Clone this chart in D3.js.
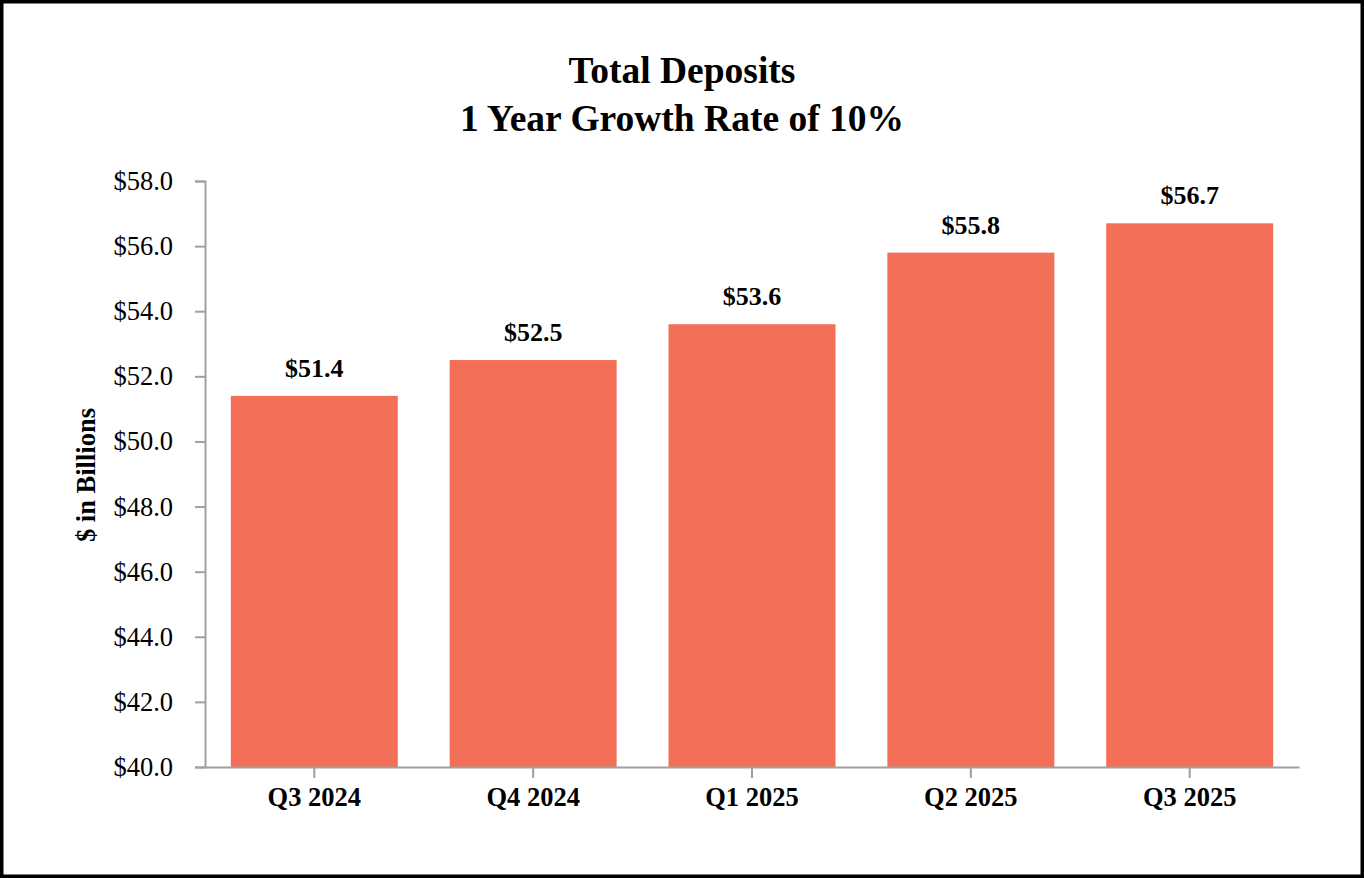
<!DOCTYPE html>
<html>
<head>
<meta charset="utf-8">
<script src="https://cdn.jsdelivr.net/npm/d3@7"></script>
<style>
  html, body { margin: 0; padding: 0; background: #fff; }
  svg { display: block; font-family: "Liberation Serif", "Times New Roman", serif; }
</style>
</head>
<body>
<svg id="chart" width="1364" height="878"></svg>
<script>
const titleLines = ["Total Deposits", "1 Year Growth Rate of 10%"];
const categories = ["Q3 2024", "Q4 2024", "Q1 2025", "Q2 2025", "Q3 2025"];
const deposits = [51.4, 52.5, 53.6, 55.8, 56.7];
const yTicks = [40, 42, 44, 46, 48, 50, 52, 54, 56, 58];
const yLabel = "$ in Billions";

const W = 1364, H = 878;
const svg = d3.select("#chart");

// outer frame
svg.append("rect")
  .attr("x", 1.75).attr("y", 1.75)
  .attr("width", W - 3.5).attr("height", H - 3.5)
  .attr("fill", "#fff").attr("stroke", "#000").attr("stroke-width", 3.5);

const plot = { left: 205, right: 1299, top: 181, bottom: 767 };

const x = d3.scaleBand()
  .domain(categories)
  .range([plot.left, plot.right])
  .paddingInner(0.237)
  .paddingOuter(0.118);

const y = d3.scaleLinear()
  .domain([40, 58])
  .range([plot.bottom, plot.top]);

// title
svg.append("g").selectAll("text")
  .data(titleLines)
  .join("text")
  .attr("x", 682)
  .attr("y", (d, i) => 83 + i * 48)
  .attr("text-anchor", "middle")
  .attr("font-size", 37.5)
  .attr("font-weight", "bold")
  .attr("fill", "#000")
  .text(d => d);

// bars
svg.append("g").selectAll("rect")
  .data(deposits)
  .join("rect")
  .attr("x", (d, i) => x(categories[i]))
  .attr("y", d => y(d))
  .attr("width", x.bandwidth())
  .attr("height", d => y(40) - y(d))
  .attr("fill", "#f36f57");

// value labels
svg.append("g").selectAll("text")
  .data(deposits)
  .join("text")
  .attr("x", (d, i) => x(categories[i]) + x.bandwidth() / 2)
  .attr("y", d => y(d) - 19)
  .attr("text-anchor", "middle")
  .attr("font-size", 26)
  .attr("font-weight", "bold")
  .attr("fill", "#000")
  .text(d => "$" + d.toFixed(1));

// y axis
const yAxis = d3.axisLeft(y)
  .tickValues(yTicks)
  .tickSize(10)
  .tickPadding(22)
  .tickFormat(d => "$" + d.toFixed(1));
const gy = svg.append("g")
  .attr("transform", `translate(${plot.left},0)`)
  .call(yAxis);
gy.select(".domain").attr("stroke", "#a0a0a0").attr("stroke-width", 2);
gy.selectAll(".tick line").attr("stroke", "#a0a0a0").attr("stroke-width", 2);
gy.selectAll(".tick text")
  .attr("font-family", "Liberation Serif, Times New Roman, serif")
  .attr("font-size", 26.5)
  .attr("fill", "#000");

// x axis
const xAxis = d3.axisBottom(x).tickSize(11).tickPadding(9).tickSizeOuter(0);
const gx = svg.append("g")
  .attr("transform", `translate(0,${plot.bottom})`)
  .call(xAxis);
gx.select(".domain").attr("stroke", "#a0a0a0").attr("stroke-width", 2);
gx.selectAll(".tick line").attr("stroke", "#a0a0a0").attr("stroke-width", 2);
gx.selectAll(".tick text")
  .attr("font-family", "Liberation Serif, Times New Roman, serif")
  .attr("font-size", 26.5)
  .attr("font-weight", "bold")
  .attr("fill", "#000");

// y label
svg.append("text")
  .attr("transform", `translate(95,475) rotate(-90)`)
  .attr("text-anchor", "middle")
  .attr("font-size", 26.5)
  .attr("font-weight", "bold")
  .attr("fill", "#000")
  .text(yLabel);
</script>
</body>
</html>
